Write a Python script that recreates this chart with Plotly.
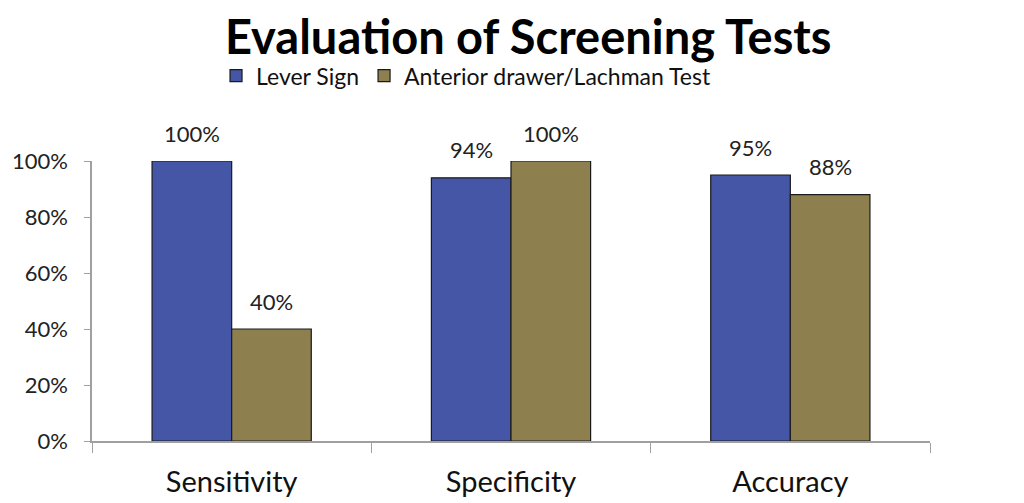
import plotly.graph_objects as go

categories = ["Sensitivity", "Specificity", "Accuracy"]
series_names = ["Lever Sign", "Anterior drawer/Lachman Test"]
lever_sign = [1.00, 0.94, 0.95]
lachman = [0.40, 1.00, 0.88]
lever_labels = ["100%", "94%", "95%"]
lachman_labels = ["40%", "100%", "88%"]
y_ticks = [0, 0.2, 0.4, 0.6, 0.8, 1.0]
y_tick_labels = ["0%", "20%", "40%", "60%", "80%", "100%"]

colors = ["#4556A6", "#8E7F4F"]
font_family = "Lato, 'Open Sans', sans-serif"

fig = go.Figure()
for name, vals, col in zip(series_names, [lever_sign, lachman], colors):
    fig.add_trace(go.Bar(
        x=categories, y=vals, name=name,
        marker=dict(color=col, line=dict(color="#1b1b1b", width=1.2)),
        hoverinfo="skip",
    ))

annotations = []
for labels, vals, shift in [(lever_labels, lever_sign, -40), (lachman_labels, lachman, 40)]:
    for c, v, t in zip(categories, vals, labels):
        annotations.append(dict(
            x=c, y=v, text=t, showarrow=False, xshift=shift, yshift=28,
            font=dict(size=22, color="#222", family=font_family),
        ))

fig.update_layout(
    width=1016, height=495,
    margin=dict(l=84, r=94, t=153, b=62, autoexpand=False),
    paper_bgcolor="white", plot_bgcolor="white",
    title=dict(text="<b>Evaluation of Screening Tests</b>", x=0.512, xanchor="center",
               y=0.94, yanchor="middle", yref="container",
               font=dict(size=47, color="#000", family=font_family)),
    legend=dict(orientation="h", x=0.148, xanchor="left", y=1.305, yanchor="middle",
                font=dict(size=23, color="#111", family=font_family),
                traceorder="normal", itemwidth=30),
    barmode="group", bargap=0.43, bargroupgap=0,
    annotations=annotations,
    font=dict(family=font_family),
)
fig.update_xaxes(
    showline=True, linecolor="#a0a0a0", linewidth=1.5,
    ticks="outside", tickson="boundaries", ticklen=10, tickcolor="#a0a0a0",
    tickfont=dict(size=29, color="#111", family=font_family),
    ticklabelstandoff=14, showgrid=False, automargin=False,
)
fig.update_yaxes(
    range=[0, 1.0], tickvals=y_ticks, ticktext=y_tick_labels,
    showline=True, linecolor="#a0a0a0", linewidth=1.5,
    ticks="outside", ticklen=6, tickcolor="#a0a0a0",
    tickfont=dict(size=22, color="#222", family=font_family),
    ticklabelstandoff=12, showgrid=False, zeroline=False, automargin=False,
)

fig.write_html("out.html")
